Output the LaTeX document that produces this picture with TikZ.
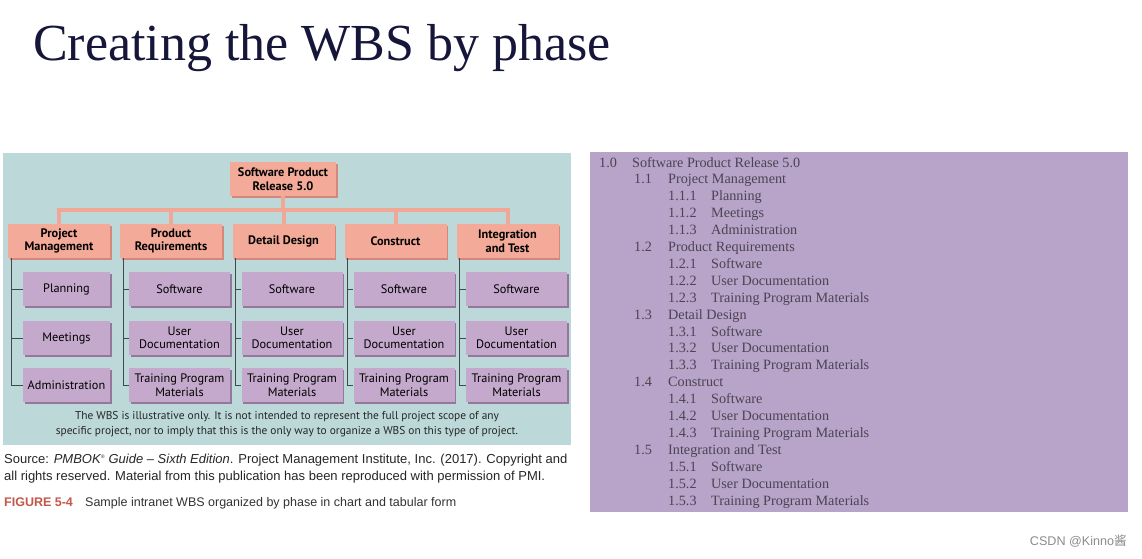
\documentclass[tikz,border=0pt]{standalone}
\usepackage{fontspec}
\setmainfont{Liberation Serif}
\newfontfamily\chartfont{PT Sans}
\newfontfamily\srcfont{Liberation Sans}
\newfontfamily\cjkfont{Noto Sans CJK SC}
\definecolor{tealbg}{HTML}{BDD8D9}
\definecolor{salmonA}{HTML}{F4AA99}
\definecolor{salmonD}{HTML}{D4877A}
\definecolor{lilacA}{HTML}{C4A9CC}
\definecolor{lilacD}{HTML}{94789C}
\definecolor{panelR}{HTML}{B8A3C9}
\definecolor{titleC}{HTML}{15163A}
\definecolor{listC}{HTML}{4B4452}
\definecolor{figC}{HTML}{C4574A}
\definecolor{treeC}{HTML}{3F4A4A}
\tikzset{
  shadowed/.style={preaction={fill=#1, transform canvas={shift={(1.5pt,-1.5pt)}}}},
  lvone/.style={fill=salmonA, shadowed=salmonD, minimum height=34pt, inner sep=0pt,
     align=center, font=\chartfont\bfseries\fontsize{12.3}{13.5}\selectfont},
  lvthree/.style={fill=lilacA, shadowed=lilacD, minimum height=34pt, inner sep=0pt,
     align=center, font=\chartfont\fontsize{12.3}{13.5}\selectfont},
  barline/.style={salmonA!90!salmonD, line width=4pt},
  tree/.style={treeC, line width=0.8pt},
  listtxt/.style={anchor=base west, inner sep=0pt, text=listC, font=\fontsize{14.2}{16}\selectfont},
}
\begin{document}
\begin{tikzpicture}[x=1pt,y=-1pt]
\useasboundingbox (0,0) rectangle (1142,558);
\fill[white] (0,0) rectangle (1142,558);
% title
\node[anchor=base west, inner sep=0pt, text=titleC, font=\fontsize{52}{60}\selectfont] (title) at (33,60) {Creating the WBS by phase};
% left panel
\fill[tealbg] (3,153) rectangle (571,445);
\node[lvone, minimum width=106pt] (root) at (283,179) {Software Product\\Release 5.0};
\coordinate (bar) at (283,210);
\foreach \nm/\x/\txt in {c1/59/{Project\\Management}, c2/171/{Product\\Requirements}, c3/283.5/{Detail Design}, c4/395.5/{Construct}, c5/507.5/{Integration\\and Test}}{
  \node[lvone, minimum width=102pt] (\nm) at (\x,241) {\txt};
}
\draw[barline] (root.south) -- (root.south |- bar);
\foreach \nm in {c1,c2,c3,c4,c5}{
  \draw[barline] (root.south |- bar) -| (\nm.north);
}
% level 3
\node[lvthree, minimum width=87pt] (c1a) at (66.5,289) {Planning};
\node[lvthree, minimum width=87pt] (c1b) at (66.5,338) {Meetings};
\node[lvthree, minimum width=87pt] (c1c) at (66.5,385) {Administration};
\foreach \nm/\x in {c2/179.5, c3/292, c4/404, c5/516.5}{
  \node[lvthree, minimum width=101pt] (\nm a) at (\x,289) {Software};
  \node[lvthree, minimum width=101pt] (\nm b) at (\x,338) {User\\Documentation};
  \node[lvthree, minimum width=101pt] (\nm c) at (\x,385) {Training Program\\Materials};
}
\foreach \nm in {c1,c2,c3,c4,c5}{
  \draw[tree] ([xshift=3.5pt]\nm.south west) |- (\nm c.west);
  \draw[tree] ([xshift=3.5pt]\nm.south west |- \nm a.west) -- (\nm a.west);
  \draw[tree] ([xshift=3.5pt]\nm.south west |- \nm b.west) -- (\nm b.west);
}
\node[align=center, inner sep=0pt, text=black!85, font=\chartfont\fontsize{11.4}{14.5}\selectfont] (note) at (287,424)
  {The WBS is illustrative only. It is not intended to represent the full project scope of any\\
   specific project, nor to imply that this is the only way to organize a WBS on this type of project.};
% source
\node[anchor=base west, inner sep=0pt, text=black!85, font=\srcfont\fontsize{13}{15}\selectfont] (src1) at (4,463)
  {Source: \textit{PMBOK\textsuperscript{\tiny\textregistered} Guide – Sixth Edition}. Project Management Institute, Inc. (2017). Copyright and};
\node[anchor=base west, inner sep=0pt, text=black!85, font=\srcfont\fontsize{13}{15}\selectfont] (src2) at (4,480)
  {all rights reserved. Material from this publication has been reproduced with permission of PMI.};
\node[anchor=base west, inner sep=0pt, text=figC, font=\srcfont\bfseries\fontsize{12.5}{14}\selectfont] (fig) at (4,506) {FIGURE 5-4};
\node[anchor=base west, inner sep=0pt, text=black!80, font=\srcfont\fontsize{12.5}{14}\selectfont] (figt) at (85,506) {Sample intranet WBS organized by phase in chart and tabular form};
% right panel
\fill[panelR] (590,152) rectangle (1128,512);
\foreach [count=\i from 0] \lv/\num/\txt in {
 0/1.0/Software Product Release 5.0, 1/1.1/Project Management, 2/1.1.1/Planning, 2/1.1.2/Meetings, 2/1.1.3/Administration,
 1/1.2/Product Requirements, 2/1.2.1/Software, 2/1.2.2/User Documentation, 2/1.2.3/Training Program Materials,
 1/1.3/Detail Design, 2/1.3.1/Software, 2/1.3.2/User Documentation, 2/1.3.3/Training Program Materials,
 1/1.4/Construct, 2/1.4.1/Software, 2/1.4.2/User Documentation, 2/1.4.3/Training Program Materials,
 1/1.5/Integration and Test, 2/1.5.1/Software, 2/1.5.2/User Documentation, 2/1.5.3/Training Program Materials}{
  \pgfmathsetmacro\xn{{599,634,668}[\lv]}
  \pgfmathsetmacro\xt{{632,668,711}[\lv]}
  \pgfmathsetmacro\yy{167+\i*16.9}
  \node[listtxt] (n\i) at (\xn,\yy) {\num};
  \node[listtxt] (t\i) at (\xt,\yy) {\txt};
}
% watermark
\node[anchor=east, inner sep=0pt, text=black!45, font=\srcfont\fontsize{12.6}{14}\selectfont] (wm) at (1127,541) {CSDN @Kinno{\cjkfont 酱}};
\end{tikzpicture}
\end{document}
